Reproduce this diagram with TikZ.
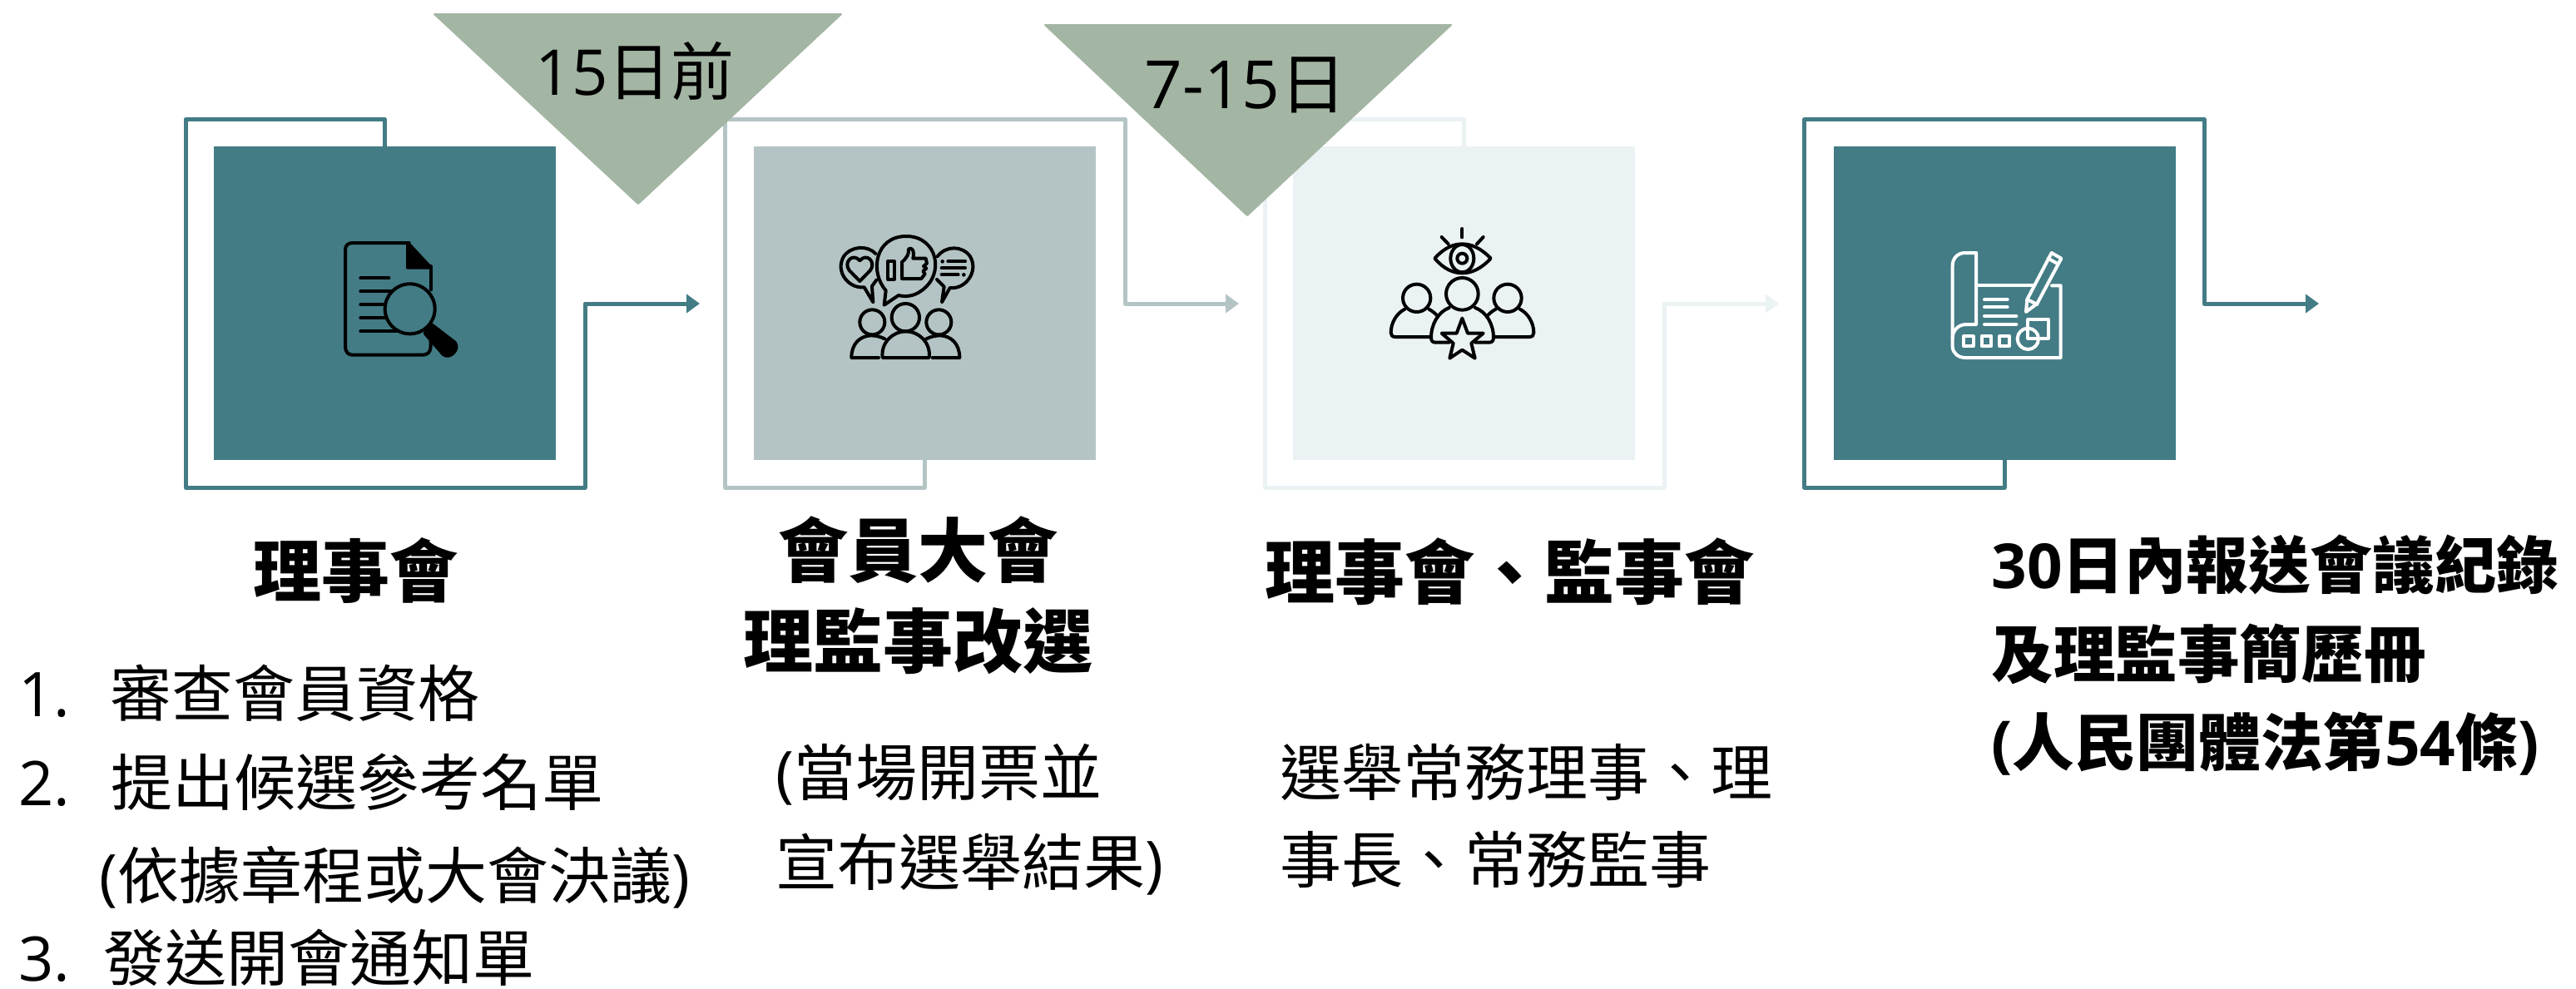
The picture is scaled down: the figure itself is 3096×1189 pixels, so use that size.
\documentclass[tikz,border=0pt]{standalone}
\usepackage{fontspec}
\setmainfont{Noto Sans CJK TC}
\newfontfamily\la{Open Sans}
\usetikzlibrary{arrows.meta}
\definecolor{tealc}{HTML}{437C85}
\definecolor{grayc}{HTML}{B4C4C5}
\definecolor{palec}{HTML}{EAF2F4}
\definecolor{sagec}{HTML}{A3B5A3}
\tikzset{
  panel/.style={draw=none,inner sep=0pt,outer sep=0pt,minimum width=205.5pt,minimum height=188.5pt},
  frameline/.style={line width=2.5pt,line join=round,-{Triangle[length=8pt,width=11pt]}},
  flag/.style={fill=sagec,draw=sagec,line width=1pt,line join=round},
  head/.style={anchor=center,inner sep=0pt,font=\fontsize{41}{50}\selectfont\bfseries,text height=36pt,text depth=5pt},
  headb/.style={head,font=\fontsize{42}{50}\selectfont\bfseries},
  sub/.style={anchor=west,inner sep=0pt,font=\fontsize{37.3}{45}\selectfont\bfseries,text height=32.5pt,text depth=4.5pt},
  body/.style={anchor=west,inner sep=0pt,font=\fontsize{37}{45}\selectfont,text height=32.5pt,text depth=4.5pt},
  icon/.style={line width=2pt,line cap=round,line join=round},
}
\begin{document}
\begin{tikzpicture}[x=0.5pt,y=-0.5pt]
\useasboundingbox (0,0) rectangle (3096,1189);
% panels
\node[panel,fill=tealc] (box1) at (462.5,364.5) {};
\node[panel,fill=grayc] (box2) at (1111.5,364.5) {};
\node[panel,fill=palec] (box3) at (1759.5,364.5) {};
\node[panel,fill=tealc] (box4) at (2409,364.5) {};
\coordinate (end1) at (841,365);
\coordinate (end2) at (1489,365);
\coordinate (end3) at (2138,365);
\coordinate (end4) at (2787,365);
% frames
\draw[frameline,draw=tealc] (box1.north) |- (223,143.5) |- (703,586) |- (end1);
\draw[frameline,draw=grayc] (box2.south) |- (871.5,586) |- (1352,143.5) |- (end2);
\draw[frameline,draw=palec] (box3.north) |- (1520,143.5) |- (2000,586) |- (end3);
\draw[frameline,draw=tealc] (box4.south) |- (2168.5,586) |- (2649,143.5) |- (end4);
% flags
\draw[flag] (522,17) -- (1011,17) -- (767,245) -- cycle;
\draw[flag] (1256,30) -- (1744,30) -- (1499,259) -- cycle;
\node[body,anchor=center,font=\fontsize{38}{45}\selectfont] (t1) at (763,86) {{\la 15}日前};
\node[body,anchor=center,font=\fontsize{40}{45}\selectfont] (t2) at (1497,102) {{\la 7-15}日};
% icon 1
\begin{scope}[shift={(380,270)},x=0.1666667pt,y=-0.1666667pt,icon]
\draw (335,66) -- (130,66) .. controls (115,66) and (105,76) .. (105,90) -- (105,440) .. controls (105,458) and (115,470) .. (130,470) -- (385,470) .. controls (402,470) and (413,458) .. (413,440) -- (413,410);
\draw (413,235) -- (413,150);
\fill[black,draw=black] (330,66) -- (330,155) -- (413,155) -- cycle;
\foreach \ya/\xa in {193/262,241/270,289/245,337/245,385/290}{\draw (160,\ya) -- (\xa,\ya);}
\draw (338,304) circle (90);
\fill[black,draw=black] (418,362) -- (392,392) -- (458,468) .. controls (480,488) and (520,450) .. (500,425) -- cycle;
\end{scope}
% icon 2
\begin{scope}[shift={(990,270)},x=0.1666667pt,y=-0.1666667pt,icon]
\draw (270,255) -- (218,290) -- (224,238) .. controls (165,170) and (185,42) .. (298,42) .. controls (410,42) and (440,180) .. (350,240) .. controls (325,258) and (295,262) .. (270,255);
\draw (232,132) rectangle (254,198);
\draw (282,195) -- (282,135) .. controls (300,120) and (308,105) .. (306,88) .. controls (318,80) and (328,95) .. (322,122) -- (368,122) -- (372,140) -- (360,150) -- (370,158) -- (358,168) -- (365,178) -- (352,195) -- cycle;
\draw (187,105) .. controls (160,75) and (100,75) .. (72,115) .. controls (40,170) and (90,232) .. (146,226) -- (178,280) -- (174,222) -- (190,200);
\draw (130,204) -- (92,165) .. controls (70,135) and (105,100) .. (130,130) .. controls (155,100) and (190,135) .. (168,165) -- cycle;
\draw (410,115) .. controls (440,75) and (500,75) .. (528,115) .. controls (560,170) and (510,235) .. (455,228) -- (426,280) -- (434,224) -- (408,198);
\draw (448,133) -- (510,133); \draw (425,157) -- (510,157); \draw (425,181) -- (485,181);
\fill[black] (428,133) circle (7); \fill[black] (505,181) circle (7);
\draw (295,335) circle (50);
\draw (175,352) circle (45);
\draw (415,352) circle (45);
\draw (212,480) .. controls (205,425) and (250,385) .. (296,385) .. controls (342,385) and (387,425) .. (380,480) -- cycle;
\draw (198,480) -- (100,480) .. controls (100,430) and (130,402) .. (170,400) .. controls (190,400) and (205,405) .. (220,412);
\draw (392,480) -- (490,480) .. controls (490,430) and (460,402) .. (420,400) .. controls (400,400) and (385,405) .. (370,412);
\end{scope}
% icon 3
\begin{scope}[shift={(1660,260)},x=0.1666667pt,y=-0.1666667pt,icon]
\draw (292,45) -- (292,76); \draw (218,75) -- (242,100); \draw (368,75) -- (345,100);
\draw (193,152) .. controls (225,115) and (260,100) .. (292,100) .. controls (325,100) and (360,115) .. (395,152) .. controls (360,190) and (325,205) .. (292,205) .. controls (260,205) and (225,190) .. (193,152) -- cycle;
\draw (292,152) ellipse (42 and 50);
\draw (292,152) circle (18);
\draw (292,280) circle (58);
\draw (128,295) circle (50);
\draw (456,295) circle (50);
\draw (245,455) -- (195,455) .. controls (185,455) and (180,448) .. (180,438) .. controls (180,390) and (205,345) .. (245,330);
\draw (339,330) .. controls (380,345) and (405,390) .. (405,438) .. controls (405,448) and (400,455) .. (390,455) -- (340,455);
\draw (180,435) -- (50,435) .. controls (40,435) and (35,428) .. (35,420) .. controls (35,385) and (55,350) .. (85,335);
\draw (172,335) .. controls (185,342) and (197,352) .. (205,362);
\draw (405,435) -- (535,435) .. controls (545,435) and (550,428) .. (550,420) .. controls (550,385) and (530,350) .. (500,335);
\draw (413,335) .. controls (400,342) and (388,352) .. (380,362);
\draw (292,368) -- (312,422) -- (368,422) -- (325,458) -- (338,512) -- (292,482) -- (247,512) -- (260,458) -- (218,422) -- (272,422) -- cycle;
\end{scope}
% icon 4
\begin{scope}[shift={(2320,280)},x=0.1666667pt,y=-0.1666667pt,icon,draw=white]
\draw (165,72) -- (125,72) .. controls (98,72) and (80,92) .. (80,118) -- (80,410) .. controls (80,432) and (100,450) .. (125,450) -- (470,450) -- (470,190) -- (438,190);
\draw (165,72) -- (165,330) -- (130,330) .. controls (102,330) and (80,350) .. (80,380);
\draw (165,190) -- (375,190);
\foreach \ya/\xa in {240/278,268/278,300/310,330/310}{\draw (195,\ya) -- (\xa,\ya);}
\foreach \xa in {120,185,250}{\draw (\xa,373) rectangle ++(35,35);}
\draw (352,382) circle (38);
\draw (352,312) rectangle (425,380);
\draw (345,285) -- (349,240) -- (437,72) -- (472,92) -- (385,255) -- cycle;
\draw (349,240) -- (385,258);
\draw (425,92) -- (460,112);
\end{scope}
% headings
\node[head] (h1) at (427,686) {理事會};
\node[headb] (h2a) at (1103,662) {會員大會};
\node[headb] (h2b) at (1103,771) {理監事改選};
\node[headb] (h3) at (1814,688) {理事會、監事會};
\node[sub] (s1) at (2393,679) {{\la 30}日內報送會議紀錄};
\node[sub] (s2) at (2393,786) {及理監事簡歷冊};
\node[sub] (s3) at (2393,892) {{\la (}人民團體法第{\la 54}條{\la )}};
% list
\node[body] (n1) at (22,833) {\la 1.};
\node[body] (l1) at (132,833) {審查會員資格};
\node[body] (n2) at (22,940) {\la 2.};
\node[body] (l2) at (133,940) {提出候選參考名單};
\node[body] (l3) at (119,1052) {{\la (}依據章程或大會決議{\la )}};
\node[body,text depth=0pt] (n3) at (22,1146.5) {\la 3.};
\node[body,text depth=0pt] (l4) at (124,1146.5) {發送開會通知單};
% notes
\node[body] (a1) at (932,928) {{\la (}當場開票並};
\node[body] (a2) at (932,1036) {宣布選舉結果{\la )}};
\node[body] (b1) at (1538,928) {選舉常務理事、理};
\node[body] (b2) at (1538,1033) {事長、常務監事};
\end{tikzpicture}
\end{document}
